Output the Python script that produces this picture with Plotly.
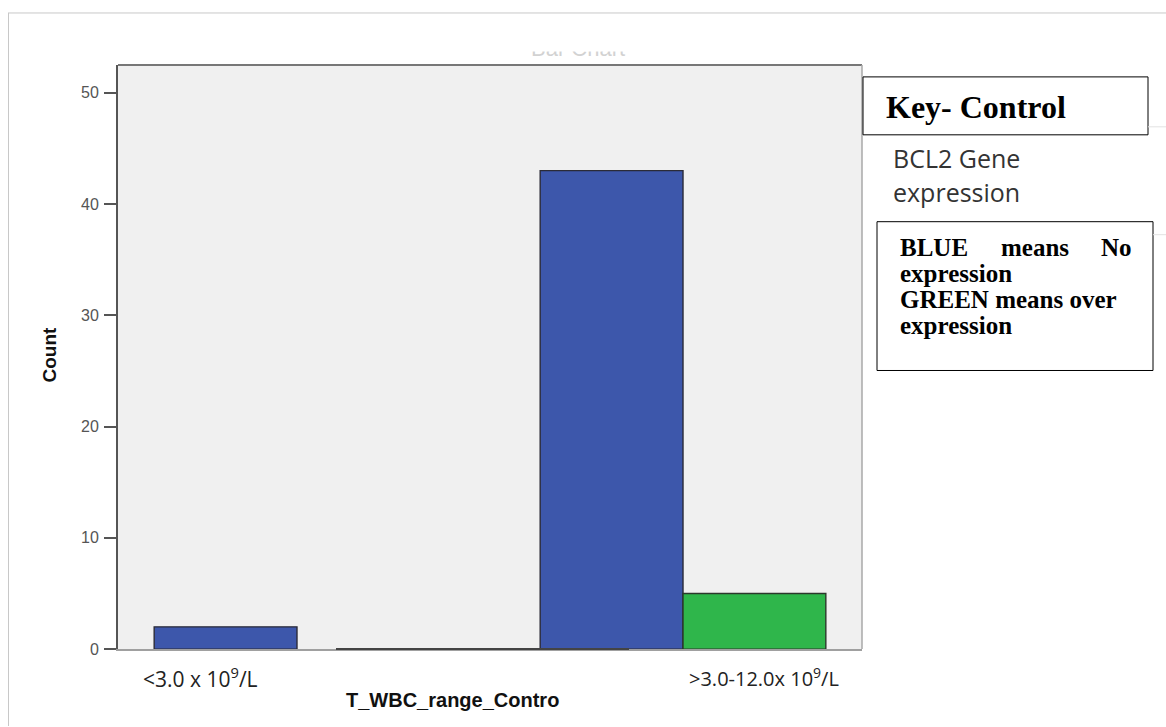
import plotly.graph_objects as go

categories = ["<3.0 x 10<sup>9</sup>/L", ">3.0-12.0x 10<sup>9</sup>/L"]
no_expression = [2, 43]
over_expression = [0, 5]
y_ticks = [0, 10, 20, 30, 40, 50]

W, H = 1166, 727
PL, PR, PT, PB = 118, 862, 65, 650

def px(x):
    return x / W

def py(y):
    return 1 - y / H

fig = go.Figure()
fig.add_trace(go.Bar(x=[0, 1], y=no_expression, name="No expression",
                     marker=dict(color="#3d57ab", line=dict(color="#2b2b38", width=1.4))))
fig.add_trace(go.Bar(x=[0, 1], y=over_expression, name="Over expression",
                     marker=dict(color="#2fb64b", line=dict(color="#2b382b", width=[0, 1.4]))))

fig.update_layout(
    width=W, height=735,
    margin=dict(l=0, r=0, t=0, b=0),
    paper_bgcolor="white",
    plot_bgcolor="#f0f0f0",
    showlegend=False,
    barmode="group",
    bargap=0.26,
    bargroupgap=0,
    xaxis=dict(domain=[px(PL), px(PR)], range=[-0.4637, 1.4637], showticklabels=False,
               showgrid=False, zeroline=False, ticks="", showline=True,
               linecolor="#a0a0a0", linewidth=1.5, mirror=False),
    yaxis=dict(domain=[py(PB), py(PT)], range=[0, 52.5], tickvals=y_ticks,
               showgrid=False, zeroline=False, ticks="outside", ticklen=12,
               tickwidth=1.5, tickcolor="#555555", showline=True, linecolor="#555555",
               linewidth=2, tickfont=dict(family="Liberation Sans, Arial", size=16, color="#555555"),
               ticklabelstandoff=2),
)

shapes = []
shapes.append(dict(type="line", xref="paper", yref="paper", x0=px(PL), x1=px(PR), y0=py(PT), y1=py(PT),
                   line=dict(color="#777777", width=2)))
shapes.append(dict(type="line", xref="paper", yref="paper", x0=px(PR), x1=px(PR), y0=py(PT), y1=py(PB),
                   line=dict(color="#a8a8a8", width=1.5)))
shapes.append(dict(type="line", xref="paper", yref="paper", x0=px(336), x1=px(629), y0=py(PB), y1=py(PB),
                   line=dict(color="#444444", width=2)))
shapes.append(dict(type="line", xref="paper", yref="paper", x0=px(8), x1=1, y0=py(13), y1=py(13),
                   line=dict(color="#c8c8c8", width=1)))
shapes.append(dict(type="line", xref="paper", yref="paper", x0=px(8.5), x1=px(8.5), y0=py(13), y1=0,
                   line=dict(color="#c8c8c8", width=1)))
shapes.append(dict(type="rect", xref="paper", yref="paper", x0=px(863), x1=px(1148), y0=py(77), y1=py(135),
                   line=dict(color="black", width=1), fillcolor="white"))
shapes.append(dict(type="rect", xref="paper", yref="paper", x0=px(877), x1=px(1153), y0=py(222), y1=py(371),
                   line=dict(color="black", width=1), fillcolor="white"))
shapes.append(dict(type="line", xref="paper", yref="paper", x0=px(1148), x1=1, y0=py(127), y1=py(127),
                   line=dict(color="#e2e2e2", width=1)))
shapes.append(dict(type="line", xref="paper", yref="paper", x0=px(1153), x1=1, y0=py(235), y1=py(235),
                   line=dict(color="#e2e2e2", width=1)))
fig.update_layout(shapes=shapes)

def note(text, x, y, xa="center", **kw):
    d = dict(text=text, xref="paper", yref="paper", x=px(x), y=py(y), xanchor=xa,
             yanchor="middle", showarrow=False)
    d.update(kw)
    return d

ann = []
ann.append(note("Bar Chart", 578, 49, font=dict(family="Liberation Sans", size=22, color="#d2d2d2")))
ann.append(note("&nbsp;", 578, 38, width=170, height=24, bgcolor="white", font=dict(size=10)))
ann.append(note("<b>Count</b>", 50, 355, textangle=-90,
                font=dict(family="Liberation Sans, Arial", size=19, color="#111111")))
ann.append(note("<b>T_WBC_range_Contro</b>", 344, 701, xa="left",
                font=dict(family="Liberation Sans, Arial", size=20, color="#111111")))
ann.append(note(categories[0], 141, 678, xa="left",
                font=dict(family="Open Sans", size=21, color="#222222")))
ann.append(note(categories[1], 841, 678, xa="right",
                font=dict(family="Open Sans", size=20, color="#222222")))
ann.append(note("<b>Key- Control</b>", 884, 107, xa="left",
                font=dict(family="Liberation Serif", size=32, color="black")))
ann.append(note("BCL2 Gene", 891, 158, xa="left",
                font=dict(family="Open Sans", size=25, color="#333333")))
ann.append(note("expression", 891, 192, xa="left",
                font=dict(family="Open Sans", size=25, color="#333333")))
key_font = dict(family="Liberation Serif", size=25, color="black")
ann.append(note("<b>BLUE</b>", 898, 248, xa="left", font=key_font))
ann.append(note("<b>means</b>", 1035, 248, xa="center", font=key_font))
ann.append(note("<b>No</b>", 1134, 248, xa="right", font=key_font))
ann.append(note("<b>expression</b>", 898, 274, xa="left", font=key_font))
ann.append(note("<b>GREEN means over</b>", 898, 300, xa="left", font=key_font))
ann.append(note("<b>expression</b>", 898, 326, xa="left", font=key_font))
fig.update_layout(annotations=ann)

fig.write_html("out.html", config=dict(displayModeBar=False),
               post_script="document.body.style.margin='0';document.body.style.overflow='hidden';")
